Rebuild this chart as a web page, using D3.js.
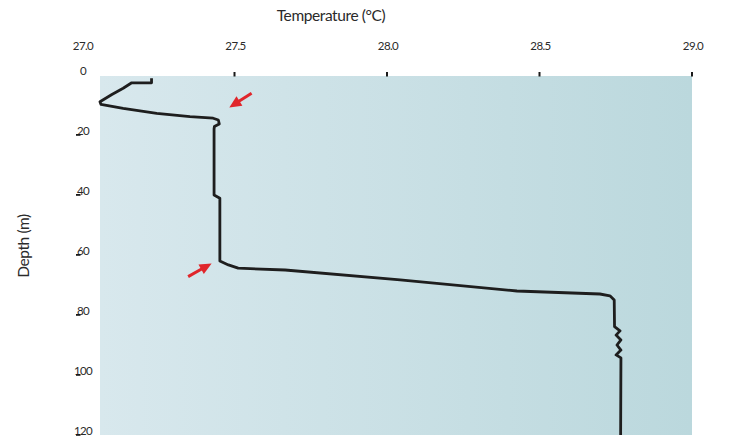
<!DOCTYPE html>
<html>
<head>
<meta charset="utf-8">
<script src="https://cdn.jsdelivr.net/npm/d3@7"></script>
<style>
  html, body { margin: 0; padding: 0; background: #fff; }
  svg { display: block; }
  text { font-family: Lato, "DejaVu Sans", sans-serif; fill: #2a2a2a; }
</style>
</head>
<body>
<svg id="chart" width="736" height="443"></svg>
<script>
// Temperature profile of the water column (°C against depth in metres)
const temperature = [27.228, 27.228, 27.163, 27.135, 27.098, 27.059, 27.062, 27.135, 27.245, 27.354,
  27.430, 27.447, 27.450, 27.434, 27.433, 27.433, 27.452, 27.452, 27.452, 27.480, 27.512,
  27.666, 28.043, 28.426, 28.698, 28.731, 28.745, 28.746, 28.764, 28.751, 28.767, 28.754,
  28.767, 28.751, 28.767, 28.766];
const depth = [1.1, 2.6, 2.6, 4.4, 6.5, 8.9, 9.8, 11.1, 12.8, 13.9,
  14.4, 15.0, 16.3, 17.2, 18.0, 40.0, 41.1, 61.0, 62.0, 63.3, 64.4,
  65.0, 68.3, 72.0, 73.0, 73.6, 75.0, 83.9, 85.3, 86.7, 88.3, 90.0,
  91.7, 93.3, 94.3, 120.0];

// Axis ticks
const tempTicks = [27.0, 27.5, 28.0, 28.5, 29.0];
const depthTicks = [0, 20, 40, 60, 80, 100, 120];

// Arrows marking the top and bottom of the mixed layer (tail -> tip)
const arrowTailT = [27.556, 27.348];
const arrowTailD = [6.1, 67.2];
const arrowTipT = [27.483, 27.425];
const arrowTipD = [10.8, 62.8];

const svg = d3.select("#chart");

const x = d3.scaleLinear().domain([27.0, 29.0]).range([82, 692]);
const y = d3.scaleLinear().domain([0, 120]).range([75, 435]);

// plot background with a soft left-to-right gradient
const defs = svg.append("defs");
const grad = defs.append("linearGradient").attr("id", "bg").attr("x1", 0).attr("x2", 1).attr("y1", 0).attr("y2", 0);
grad.append("stop").attr("offset", "0%").attr("stop-color", "#d8e8ed");
grad.append("stop").attr("offset", "100%").attr("stop-color", "#bbd8dd");

const plotLeft = 100;
svg.append("rect")
  .attr("x", plotLeft).attr("y", y(0) + 1)
  .attr("width", x(29.0) - plotLeft).attr("height", y(120) - y(0) - 1)
  .attr("fill", "url(#bg)");

// top axis: labels and short tick marks
svg.append("g").selectAll("text").data(tempTicks).join("text")
  .attr("x", d => x(d) + 1).attr("y", 47)
  .attr("text-anchor", "middle").attr("dominant-baseline", "middle")
  .attr("font-size", 11.5).attr("letter-spacing", -0.6)
  .text(d => d.toFixed(1));

svg.append("g").selectAll("rect").data(tempTicks.filter(d => x(d) > plotLeft)).join("rect")
  .attr("x", d => x(d) - 1).attr("y", 72)
  .attr("width", 2).attr("height", 4.5)
  .attr("fill", "#1a1a1a");

// left axis: labels and small tick marks
svg.append("g").selectAll("text").data(depthTicks).join("text")
  .attr("x", 83).attr("y", d => y(d) - 2.5)
  .attr("text-anchor", "middle").attr("dominant-baseline", "middle")
  .attr("font-size", 11.5).attr("letter-spacing", -0.6)
  .text(d => d);

svg.append("g").selectAll("rect").data(depthTicks.filter(d => d > 0)).join("rect")
  .attr("x", 76).attr("y", d => y(d) - 1)
  .attr("width", 4.5).attr("height", 1.8)
  .attr("fill", "#1a1a1a");

// axis titles
svg.append("text")
  .attr("x", 331).attr("y", 17)
  .attr("text-anchor", "middle").attr("dominant-baseline", "middle")
  .attr("font-size", 15.5).attr("letter-spacing", -0.4)
  .text("Temperature (°C)");

svg.append("text")
  .attr("transform", `translate(25,${246}) rotate(-90)`)
  .attr("text-anchor", "middle").attr("dominant-baseline", "middle")
  .attr("font-size", 15.5).attr("letter-spacing", -0.4)
  .text("Depth (m)");

// temperature profile
const profile = d3.zip(temperature, depth);
svg.append("path")
  .datum(profile)
  .attr("d", d3.line().x(d => x(d[0])).y(d => y(d[1])))
  .attr("fill", "none")
  .attr("stroke", "#1e1e1e")
  .attr("stroke-width", 2.8)
  .attr("stroke-linejoin", "round")
  .attr("stroke-linecap", "butt");

// red arrows
const arrows = d3.range(arrowTailT.length).map(i => ({
  x1: x(arrowTailT[i]), y1: y(arrowTailD[i]),
  x2: x(arrowTipT[i]), y2: y(arrowTipD[i])
}));
const ag = svg.append("g");
arrows.forEach(a => {
  const ang = Math.atan2(a.y2 - a.y1, a.x2 - a.x1);
  const headLen = 12, headW = 5.5;
  const bx = a.x2 - headLen * Math.cos(ang), by = a.y2 - headLen * Math.sin(ang);
  ag.append("line")
    .attr("x1", a.x1).attr("y1", a.y1).attr("x2", bx + 2 * Math.cos(ang)).attr("y2", by + 2 * Math.sin(ang))
    .attr("stroke", "#e0262b").attr("stroke-width", 3);
  const px = -Math.sin(ang), py = Math.cos(ang);
  ag.append("path")
    .attr("d", `M${a.x2},${a.y2}L${bx + headW * px},${by + headW * py}L${bx - headW * px},${by - headW * py}Z`)
    .attr("fill", "#e0262b");
});
</script>
</body>
</html>
